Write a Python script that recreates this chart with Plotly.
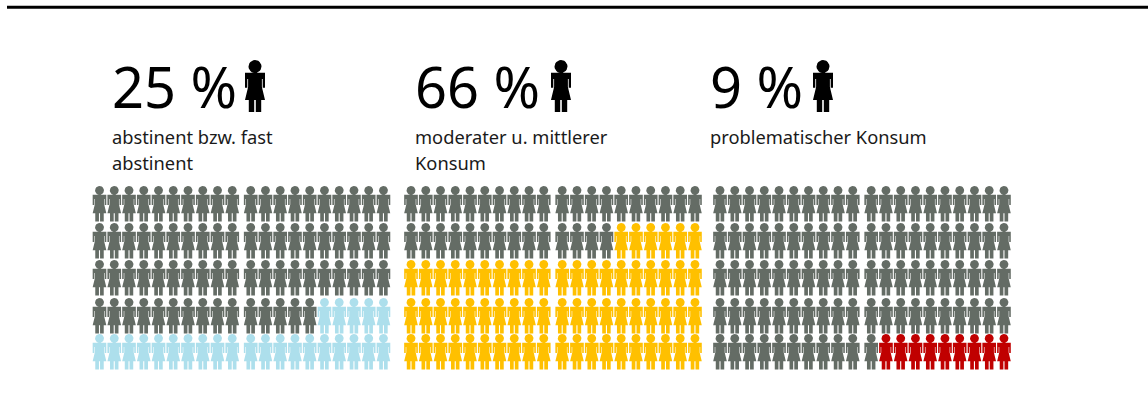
import math
import plotly.graph_objects as go

# --- data -------------------------------------------------------------
shares = [25, 66, 9]
share_labels = ["25 %", "66 %", "9 %"]
descriptions = [
    ["abstinent bzw. fast", "abstinent"],
    ["moderater u. mittlerer", "Konsum"],
    ["problematischer Konsum"],
]
highlight_colors = ["#ADDFEC", "#FFC000", "#C00000"]
REST_COLOR = "#646C65"

# --- layout constants ---------------------------------------------------
W, H = 1148, 405
FONT = "Noto Sans"
N_COLS, N_ROWS = 20, 5
panel_x0 = [99.5, 411.0, 720.0]
text_x = [110, 413, 708]
big_icon_x = [255, 561, 823]
PITCH, GAP = 14.75, 3.7
ROW_TOP = [186, 223, 260, 298, 334]
SMALL = 35.5 / 52

# icon template, x symmetric about 0, y downward, 52 units tall
half = [(10, 12.7), (10, 27.7), (7.7, 27.7), (7.7, 19), (6.9, 19), (6.9, 27),
        (10, 40), (6.2, 40), (6.2, 52), (0.8, 52), (0.8, 40)]
body = [(-10, 12.7)] + half + [(-x, y) for x, y in reversed(half)]
head = [(6.5 * math.cos(a * math.pi / 12), 6.5 + 6.5 * math.sin(a * math.pi / 12)) for a in range(24)]


def add_icon(xs, ys, cx, top, scale):
    for outline in (body, head):
        for px, py in outline + outline[:1]:
            xs.append(cx + px * scale)
            ys.append(top + py * scale)
        xs.append(None)
        ys.append(None)


fig = go.Figure()


def add_poly(xs, ys, color):
    fig.add_trace(go.Scatter(x=xs, y=ys, mode="lines", fill="toself", fillcolor=color,
                             line=dict(width=0, color=color), hoverinfo="skip", showlegend=False))


# top rule
fig.add_trace(go.Scatter(x=[7, W], y=[7.2, 7.2], mode="lines", line=dict(color="black", width=3),
                         hoverinfo="skip", showlegend=False))

for p, share in enumerate(shares):
    grey = ([], [])
    color = ([], [])
    for r in range(N_ROWS):
        for c in range(N_COLS):
            cx = panel_x0[p] + c * PITCH + (GAP if c >= N_COLS // 2 else 0)
            filled = (N_ROWS - 1 - r) * N_COLS + (N_COLS - 1 - c) < share
            target = color if filled else grey
            add_icon(target[0], target[1], cx, ROW_TOP[r], SMALL)
    add_poly(*grey, REST_COLOR)
    add_poly(*color, highlight_colors[p])
    bx, by = [], []
    add_icon(bx, by, big_icon_x[p], 60, 1.0)
    add_poly(bx, by, "black")

annotations = []
for p, label in enumerate(share_labels):
    annotations.append(dict(x=text_x[p], y=86, text=label, xanchor="left", yanchor="middle",
                            showarrow=False, font=dict(family=FONT, size=56, color="black")))
    for i, line in enumerate(descriptions[p]):
        annotations.append(dict(x=text_x[p], y=136 + 26 * i, text=line, xanchor="left", yanchor="middle",
                                showarrow=False, font=dict(family=FONT, size=18.3, color="#1a1a1a")))

axis = dict(visible=False, showgrid=False, zeroline=False, fixedrange=True)
fig.update_layout(
    width=W, height=H, margin=dict(l=0, r=0, t=0, b=0),
    paper_bgcolor="white", plot_bgcolor="white",
    xaxis=dict(range=[0, W], **axis),
    yaxis=dict(range=[H, 0], **axis),
    annotations=annotations, showlegend=False,
)
fig.write_html("out.html", config=dict(displayModeBar=False),
               post_script="document.body.style.margin='0';document.body.style.overflow='hidden';")
